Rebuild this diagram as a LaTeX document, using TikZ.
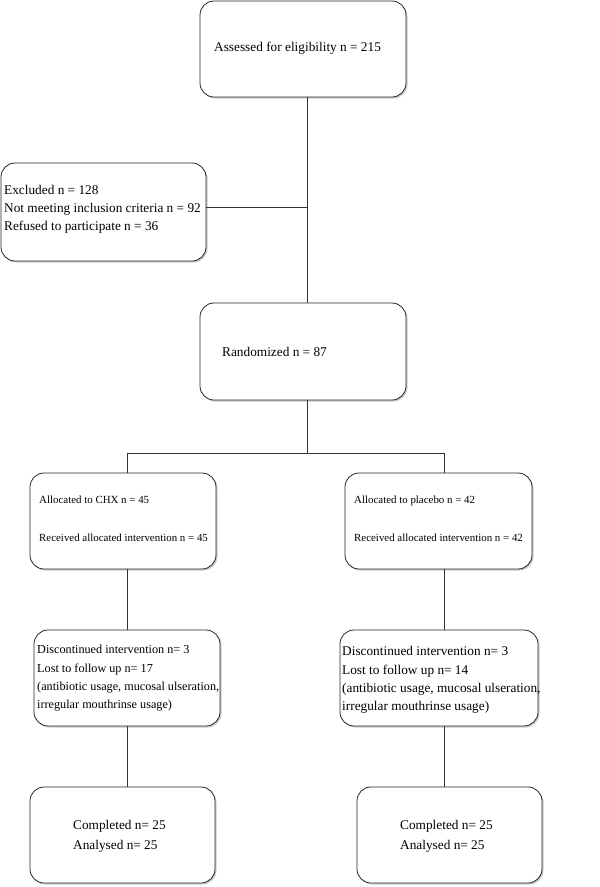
\documentclass[tikz,border=0pt]{standalone}
\usepackage{fontspec}
\setmainfont{Liberation Serif}
\usetikzlibrary{shadows}
\begin{document}
\begin{tikzpicture}[x=1pt,y=-1pt,
  box/.style={draw=black!85, line width=0.8pt, rounded corners=14pt, fill=white,
    drop shadow={shadow xshift=1.5pt, shadow yshift=-1.5pt, fill=black!40, opacity=0.5}},
  txt/.style={font=\fontsize{13.3}{18}\selectfont, align=left, inner sep=0pt, anchor=west},
  smalltxt/.style={txt, font=\fontsize{10.9}{18}\selectfont},
  midtxt/.style={txt, font=\fontsize{12.2}{18.3}\selectfont},
  bigtxt/.style={txt, font=\fontsize{13.3}{18.3}\selectfont},
  link/.style={draw=black!80, line width=0.8pt}]
\useasboundingbox (0,0) rectangle (600,887);
\fill[white] (0,0) rectangle (600,887);
% boxes
\node[box, minimum width=206pt, minimum height=96pt] (assess) at (303,49) {};
\node[box, minimum width=205pt, minimum height=98pt] (excl) at (103.5,212) {};
\node[box, minimum width=206pt, minimum height=97pt] (rand) at (303,351.5) {};
\node[box, minimum width=186pt, minimum height=96pt] (chx) at (123,521) {};
\node[box, minimum width=187pt, minimum height=96pt] (plac) at (438.5,521) {};
\node[box, minimum width=186pt, minimum height=96pt] (discL) at (127,678) {};
\node[box, minimum width=198pt, minimum height=96pt] (discR) at (439,678) {};
\node[box, minimum width=185pt, minimum height=96pt] (compL) at (122.5,835) {};
\node[box, minimum width=185pt, minimum height=96pt] (compR) at (449.5,835) {};
% texts
\node[txt] (tassess) at (214,48) {Assessed for eligibility n = 215};
\node[txt] (texcl) at (4,209) {Excluded n = 128\\Not meeting inclusion criteria n = 92\\Refused to participate n = 36};
\node[txt] (trand) at (222,352) {Randomized n = 87};
\node[smalltxt] (tchx) at (39,519) {Allocated to CHX n = 45\\[20pt]Received allocated intervention n = 45};
\node[smalltxt] (tplac) at (354,519) {Allocated to placebo n = 42\\[20pt]Received allocated intervention n = 42};
\node[midtxt] (tdiscL) at (37,678.5) {Discontinued intervention n= 3\\Lost to follow up n= 17\\(antibiotic usage, mucosal ulseration,\\irregular mouthrinse usage)};
\node[bigtxt] (tdiscR) at (342,680) {Discontinued intervention n= 3\\Lost to follow up n= 14\\(antibiotic usage, mucosal ulseration,\\irregular mouthrinse usage)};
\node[txt] (tcompL) at (73,836) {Completed n= 25\\[2pt]Analysed n= 25};
\node[txt] (tcompR) at (400,836) {Completed n= 25\\[2pt]Analysed n= 25};
% helper coordinates
\coordinate (colM) at (307,0);
\coordinate (colL) at (127,0);
\coordinate (colR) at (444,0);
\coordinate (exy) at (0,207);
\coordinate (split) at (0,453);
% connectors
\draw[link] (colM |- assess.south) -- (colM |- rand.north);
\draw[link] (excl.east |- exy) -- (colM |- exy);
\draw[link] (colM |- rand.south) -- (colM |- split);
\draw[link] (colL |- chx.north) -- (colL |- split) -- (colR |- split) -- (colR |- plac.north);
\draw[link] (colL |- chx.south) -- (colL |- discL.north);
\draw[link] (colR |- plac.south) -- (colR |- discR.north);
\draw[link] (colL |- discL.south) -- (colL |- compL.north);
\draw[link] (colR |- discR.south) -- (colR |- compR.north);
\end{tikzpicture}
\end{document}
